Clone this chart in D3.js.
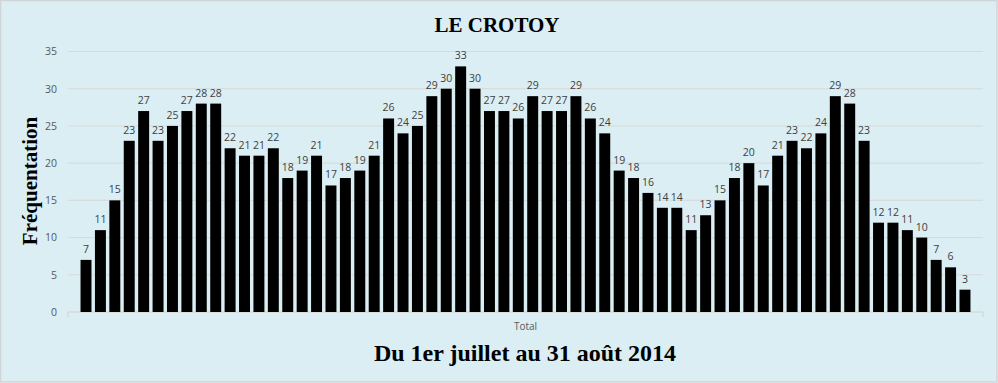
<!DOCTYPE html>
<html><head><meta charset="utf-8">
<script src="https://cdn.jsdelivr.net/npm/d3@7"></script>
<style>
html,body{margin:0;padding:0;background:#fff;}
svg{display:block;}
</style></head>
<body>
<svg id="chart" width="998" height="383"></svg>
<script>
const title = "LE CROTOY";
const yTitle = "Fréquentation";
const xTitle = "Du 1er juillet au 31 août 2014";
const categoryLabel = "Total";
const days = d3.range(1, 63); // 1 July .. 31 August (62 days)
const values = [7,11,15,23,27,23,25,27,28,28,22,21,21,22,18,19,21,17,18,19,21,26,24,25,29,30,33,30,27,27,26,29,27,27,29,26,24,19,18,16,14,14,11,13,15,18,20,17,21,23,22,24,29,28,23,12,12,11,10,7,6,3];
const yTicks = [0,5,10,15,20,25,30,35];

const W = 998, H = 383;
const svg = d3.select("#chart");
const margin = {left: 68, right: 15, top: 51.5, bottom: 71};

svg.append("rect").attr("x",0.5).attr("y",0.5).attr("width",W-1.5).attr("height",H-1.5)
  .attr("fill","#DAEEF3").attr("stroke","#d0d4d6").attr("stroke-width",1.5);

const x = d3.scaleBand().domain(days).range([margin.left, W - margin.right])
  .paddingInner(0.24).paddingOuter(0.87);
const y = d3.scaleLinear().domain([0,35]).range([H - margin.bottom, margin.top]);

// gridlines
svg.append("g").selectAll("line").data(yTicks.filter(d=>d>0)).join("line")
  .attr("x1", margin.left).attr("x2", W - margin.right)
  .attr("y1", d=>y(d)).attr("y2", d=>y(d))
  .attr("stroke","#d9d9d9").attr("stroke-width",1);

// y axis labels
const yAxis = d3.axisLeft(y).tickValues(yTicks).tickSize(0).tickPadding(11);
const gy = svg.append("g").attr("transform",`translate(${margin.left},0)`).call(yAxis);
gy.select(".domain").remove();
gy.selectAll("text").attr("fill","#595959").style("font-family","'Open Sans', sans-serif").style("font-size","10.5px");

// x axis
const y0 = y(0);
svg.append("line").attr("x1",margin.left).attr("x2",W-margin.right).attr("y1",y0).attr("y2",y0)
  .attr("stroke","#d9d9d9").attr("stroke-width",1.5);
[margin.left, W-margin.right].forEach(px=>{
  svg.append("line").attr("x1",px).attr("x2",px).attr("y1",y0).attr("y2",y0+5)
    .attr("stroke","#d9d9d9").attr("stroke-width",1.5);
});
svg.append("text").attr("x",(margin.left+W-margin.right)/2).attr("y",330)
  .attr("text-anchor","middle").attr("fill","#595959")
  .style("font-family","'Open Sans', sans-serif").style("font-size","10px").text(categoryLabel);

// bars
svg.append("g").selectAll("rect").data(values).join("rect")
  .attr("x",(d,i)=>x(days[i])).attr("width",x.bandwidth())
  .attr("y",d=>y(d)).attr("height",d=>y0-y(d)).attr("fill","#000");

// data labels
svg.append("g").selectAll("text").data(values).join("text")
  .attr("x",(d,i)=>x(days[i])+x.bandwidth()/2).attr("y",d=>y(d)-7)
  .attr("text-anchor","middle").attr("fill","#404040")
  .style("font-family","'Open Sans', sans-serif").style("font-size","10.5px")
  .text(d=>d);

// titles
svg.append("text").attr("x",497).attr("y",32).attr("text-anchor","middle")
  .style("font-family","'Liberation Serif', serif").style("font-weight","bold").style("font-size","21px")
  .attr("fill","#000").text(title);
svg.append("text").attr("transform","translate(37,181) rotate(-90)").attr("text-anchor","middle")
  .style("font-family","'Liberation Serif', serif").style("font-weight","bold").style("font-size","21px")
  .attr("fill","#000").text(yTitle);
svg.append("text").attr("x",525).attr("y",361).attr("text-anchor","middle")
  .style("font-family","'Liberation Serif', serif").style("font-weight","bold").style("font-size","24px")
  .attr("fill","#000").text(xTitle);
</script>
</body></html>
